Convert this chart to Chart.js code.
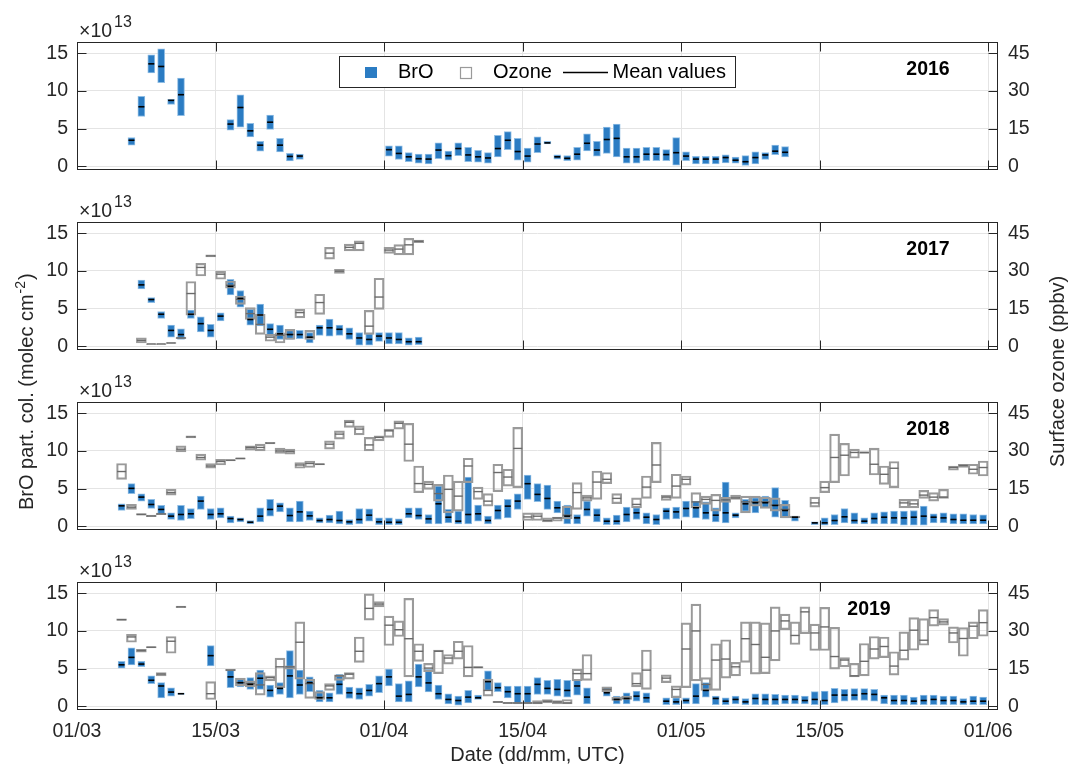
<!DOCTYPE html>
<html>
<head>
<meta charset="utf-8">
<title>BrO partial columns and surface ozone, spring 2016-2019</title>
<script src="https://cdn.jsdelivr.net/npm/chart.js@4.4.1/dist/chart.umd.min.js"></script>
<style>
  html, body { margin: 0; padding: 0; background: #ffffff; }
  #fig { position: relative; width: 1071px; height: 764px; overflow: hidden; }
  #fig canvas { position: absolute; left: 0; top: 0; }
</style>
</head>
<body>
<div id="fig">
  <canvas id="c2016" width="1071" height="764"></canvas>
  <canvas id="c2017" width="1071" height="764"></canvas>
  <canvas id="c2018" width="1071" height="764"></canvas>
  <canvas id="c2019" width="1071" height="764"></canvas>
</div>
<script>
// ---------------------------------------------------------------------------
// Tick labels and axis texts
// ---------------------------------------------------------------------------
const xTickLabels = ['01/03', '15/03', '01/04', '15/04', '01/05', '15/05', '01/06'];
const broTicks = [0, 5, 10, 15];        // x 10^13 molec cm-2
const ozoneTicks = [0, 15, 30, 45];     // ppbv
const xTitle = 'Date (dd/mm, UTC)';
const broTitle = 'BrO part. col. (molec cm';
const broTitleExp = '-2';
const ozoneTitle = 'Surface ozone (ppbv)';

// ---------------------------------------------------------------------------
// 2016 : daily BrO range (min / max) and mean, 10^13 molec cm-2
// ---------------------------------------------------------------------------
const dates2016 = ['06/03','07/03','08/03','09/03','10/03','11/03',
  '16/03','17/03','18/03','19/03','20/03','21/03','22/03','23/03',
  '01/04','02/04','03/04','04/04','05/04','06/04','07/04','08/04','09/04','10/04',
  '11/04','12/04','13/04','14/04','15/04','16/04','17/04','18/04','19/04','20/04',
  '21/04','22/04','23/04','24/04','25/04','26/04','27/04','28/04','29/04','30/04',
  '01/05','02/05','03/05','04/05','05/05','06/05','07/05','08/05','09/05','10/05','11/05'];
const broMax2016 = [3.8,9.3,14.8,15.6,8.9,11.7,
  6.2,9.5,5.7,3.3,6.8,3.7,1.7,1.6,
  2.7,2.7,1.8,1.6,1.6,3.1,2.0,3.1,2.5,2.1,
  1.8,4.1,4.6,3.7,2.4,3.9,3.3,1.5,1.4,2.5,
  4.3,3.3,5.2,5.6,2.4,2.4,2.5,2.5,2.2,3.8,
  1.9,1.3,1.3,1.3,1.5,1.2,1.4,1.9,1.8,2.8,2.6];
const broMin2016 = [2.8,6.6,12.4,11.1,8.2,6.7,
  4.8,5.2,3.9,2.0,4.9,1.9,0.7,0.9,
  1.35,0.9,0.6,0.4,0.3,1.0,0.8,1.4,0.6,0.55,
  0.4,1.25,2.2,0.8,0.55,1.8,2.95,0.95,0.75,0.8,
  2.05,1.35,1.7,1.25,0.4,0.4,0.75,0.75,0.75,0.15,
  0.75,0.3,0.3,0.3,0.45,0.4,0.1,0.3,0.9,1.55,1.25];
const broMean2016 = [3.45,7.9,13.6,13.25,8.75,9.5,
  5.6,7.8,4.7,2.8,5.85,2.8,1.3,1.35,
  2.2,1.7,1.25,1.0,0.95,2.15,1.4,2.35,1.5,1.25,
  1.1,2.35,3.45,1.95,1.35,2.95,3.1,1.25,1.05,1.6,
  3.05,2.15,3.55,3.7,1.25,1.25,1.6,1.6,1.55,1.8,
  1.35,0.95,0.95,0.95,1.15,0.8,0.6,1.15,1.5,2.0,1.85];

// ---------------------------------------------------------------------------
// 2017 : BrO (10^13 molec cm-2) and surface ozone (ppbv)
// ---------------------------------------------------------------------------
const dates2017 = ['07/03','08/03','09/03','10/03','11/03','12/03','13/03','14/03','15/03','16/03',
  '17/03','18/03','19/03','20/03','21/03','22/03','23/03','24/03','25/03','26/03',
  '27/03','28/03','29/03','30/03','31/03','01/04','02/04','03/04','04/04'];
const broMax2017 = [8.8,6.45,4.6,2.8,2.3,4.8,3.9,2.9,4.45,8.9,
  7.4,4.9,5.6,3.0,2.8,2.1,2.1,1.8,2.8,3.6,
  2.8,2.45,1.8,1.65,1.8,1.8,1.8,1.1,1.2];
const broMin2017 = [7.6,5.8,3.7,1.2,0.9,3.7,1.9,1.2,3.35,6.8,
  5.2,2.8,2.7,1.35,0.9,0.9,1.0,0.45,1.45,1.35,
  1.45,0.9,0.15,0.15,0.65,0.3,0.3,0.15,0.2];
const broMean2017 = [8.15,6.2,4.25,2.1,1.55,4.25,3.0,2.1,4.0,7.95,
  6.35,3.55,4.15,2.25,1.65,1.55,1.55,1.2,2.45,2.45,
  2.25,1.65,1.1,0.9,1.35,1.1,0.9,0.6,0.6];
const o3Max2017 = [3.3,1.0,1.0,1.5,3.6,25.8,33.0,36.4,29.8,26.0,
  20.0,15.4,12.7,4.7,5.3,6.7,14.7,6.3,20.7,39.4,
  30.6,40.7,42.0,14.3,27.1,39.4,40.5,43.0,42.3];
const o3Min2017 = [1.3,0.7,0.7,1.1,3.0,12.4,28.0,35.6,26.7,23.1,
  16.7,10.7,4.7,2.0,1.3,2.7,11.3,2.7,12.7,34.7,
  29.0,38.0,38.0,4.7,14.7,37.0,36.4,36.4,41.3];
const o3Mean2017 = [2.3,0.9,0.9,1.3,3.3,21.0,31.4,36.0,28.7,24.3,
  18.7,13.0,8.7,3.6,4.4,4.7,13.4,3.6,17.4,37.1,
  29.9,39.4,41.0,8.0,19.6,38.3,38.7,40.4,41.8];

// ---------------------------------------------------------------------------
// 2018
// ---------------------------------------------------------------------------
const dates2018 = ['05/03','06/03','07/03','08/03','09/03','10/03','11/03','12/03','13/03','14/03',
  '15/03','16/03','17/03','18/03','19/03','20/03','21/03','22/03','23/03','24/03',
  '25/03','26/03','27/03','28/03','29/03','30/03','31/03',
  '01/04','02/04','03/04','04/04','05/04','06/04','07/04','08/04','09/04','10/04',
  '11/04','12/04','13/04','14/04','15/04','16/04','17/04','18/04','19/04','20/04',
  '21/04','22/04','23/04','24/04','25/04','26/04','27/04','28/04','29/04','30/04',
  '01/05','02/05','03/05','04/05','05/05','06/05','07/05','08/05','09/05','10/05','11/05','12/05',
  '14/05','15/05','16/05','17/05','18/05','19/05','20/05','21/05','22/05','23/05',
  '24/05','25/05','26/05','27/05','28/05','29/05','30/05','31/05'];
const broMax2018 = [2.98,5.65,4.32,3.56,2.76,1.78,2.76,2.36,4.0,2.36,
  2.45,1.34,1.11,0.76,2.45,3.56,3.12,2.45,3.34,2.0,
  1.11,1.47,2.0,0.89,2.36,2.31,1.11,
  1.11,0.98,2.45,2.45,1.56,5.34,2.23,2.0,6.54,2.8,
  1.34,2.8,3.56,4.32,6.8,5.65,5.47,3.34,2.8,1.56,
  3.34,2.36,1.11,1.47,2.54,2.45,1.78,1.56,2.45,2.54,
  3.34,3.34,3.25,2.45,5.87,1.78,3.56,3.78,4.0,5.12,3.43,1.34,
  0.58,1.11,1.56,2.36,1.78,1.11,1.78,1.91,2.0,2.0,
  2.09,2.67,1.65,1.78,1.65,1.65,1.56,1.5];
const broMin2018 = [2.09,4.32,3.34,2.36,1.56,0.89,0.76,1.02,2.23,0.89,
  1.11,0.45,0.58,0.31,0.58,1.34,1.91,0.58,0.58,0.76,
  0.45,0.45,0.31,0.22,0.31,0.67,0.22,
  0.22,0.22,1.11,0.89,0.31,0.31,0.45,0.31,0.31,0.67,
  0.31,0.89,1.11,2.23,3.56,3.25,2.23,1.78,0.31,0.31,
  1.34,0.58,0.22,0.22,0.58,0.89,0.31,0.22,0.89,0.98,
  1.2,1.11,0.89,0.58,0.45,1.11,2.0,1.78,2.45,1.2,1.11,0.67,
  0.22,0.13,0.22,0.45,0.31,0.31,0.31,0.31,0.31,0.13,
  0.13,0.13,0.45,0.45,0.31,0.31,0.31,0.31];
const broMean2018 = [2.71,5.03,3.87,2.89,2.23,1.34,1.56,1.65,3.34,1.56,
  1.65,1.02,0.89,0.53,1.34,2.23,2.67,1.42,1.91,1.38,
  0.76,0.89,0.76,0.58,0.89,1.47,0.58,
  0.53,0.53,1.65,1.42,0.98,2.98,1.2,0.67,1.56,1.65,
  0.76,2.09,2.67,3.34,5.65,4.23,3.69,2.45,1.34,1.11,
  2.23,1.47,0.67,0.67,1.56,1.78,1.2,0.89,2.0,1.91,
  2.36,2.45,1.78,1.47,1.78,1.47,2.98,3.12,3.12,2.76,2.09,1.2,
  0.45,0.45,0.76,1.25,0.76,0.67,1.02,1.2,1.11,1.11,
  1.2,1.34,1.2,1.11,0.89,0.8,0.8,0.8];
const o3Max2018 = [25,8.7,5.0,4.4,5.2,14.7,32,36.0,28.7,25,
  26.7,26.6,27.3,32,32.7,33.4,31.1,30.7,25.4,26,
  25.0,34,38,42.3,40,35.4,36,
  38.7,42,41,24,18,16.7,20.4,18,27.1,15.6,
  13,24.7,22.7,39.4,5.3,5.3,3.3,3.6,8.0,17.4,
  12.4,22,21.4,13,null,11.3,20,33.4,12.4,20.7,
  20,13.4,12,12.7,11.5,12.4,12,12,11.6,11.3,8.7,4,
  11.6,18,36.7,33,30.7,29.6,31.1,24,25.8,10.7,
  10.7,14.3,13.4,14.7,24,24.7,24.7,26];
const o3Min2018 = [18.7,6.7,4.4,3.8,4.6,12.4,29.6,35.2,26.3,23.1,
  24.4,26.0,26.7,30.3,30,32.8,29,28.7,23.1,23.4,
  24.4,30.7,34.7,39.4,36.4,30,34,
  35.4,38.7,25.8,13.4,14.7,10,5.3,6,17.4,10.7,
  8,13.8,16,15.4,2.3,2.3,1.7,2.0,2.9,6.7,
  10,10.7,17,9,null,7.3,11.1,17.4,10.3,11.1,
  16.4,7.3,8.7,6,9.5,10.7,5.3,8,7.1,6,3.3,3.3,
  7.6,13.4,17.4,20,27.1,29,20.4,16.7,15.4,7.3,
  7.3,11.1,10,11.1,22.3,23.4,20.7,20];
const o3Mean2018 = [21.8,7.6,4.7,4.1,4.9,13.4,30.7,35.6,27.4,24,
  25.8,26.3,27,31.4,31.4,33.1,30,29.8,24.4,25,
  24.7,32.7,36.7,41.4,38.7,32.4,35.4,
  38,41,32.7,17,16.7,13,14.7,12,24,13.8,
  10,21.4,19.6,31,3.7,4.0,2.3,3.3,4.4,13.4,
  11.3,17.6,18.7,11.1,null,8.7,15.6,24.4,11.6,16,
  18.7,9.7,10.7,10.3,10.5,11.3,9.7,9.7,9.7,8.4,6.7,3.6,
  9.3,15.4,27.4,28.3,29.4,29.4,24.7,20.7,23.1,9.3,
  8.9,12.4,11.6,11.6,23.4,24.2,22.7,23.4];

// ---------------------------------------------------------------------------
// 2019
// ---------------------------------------------------------------------------
const dates2019 = ['05/03','06/03','07/03','08/03','09/03','10/03','11/03','14/03',
  '16/03','17/03','18/03','19/03','20/03','21/03','22/03','23/03','24/03','25/03',
  '26/03','27/03','28/03','29/03','30/03','31/03',
  '01/04','02/04','03/04','04/04','05/04','06/04','07/04','08/04','09/04','10/04',
  '11/04','12/04','13/04','14/04','15/04','16/04','17/04','18/04','19/04','20/04','21/04',
  '23/04','24/04','25/04','26/04','27/04','29/04','30/04',
  '01/05','02/05','03/05','04/05','05/05','06/05','07/05','08/05','09/05','10/05',
  '11/05','12/05','13/05','14/05','15/05','16/05','17/05','18/05','19/05','20/05',
  '21/05','22/05','23/05','24/05','25/05','26/05','27/05','28/05','29/05','30/05','31/05'];
const broMax2019 = [5.96,7.75,5.96,4.03,3.13,2.46,1.75,8.06,
  4.79,3.58,3.8,4.79,2.82,3.13,7.39,4.79,3.9,2.1,
  1.79,4.25,2.55,2.46,2.91,4.03,
  4.93,3.0,3.36,5.6,4.9,2.82,1.66,1.34,2.1,1.48,
  4.7,3.13,2.69,2.69,2.69,3.81,3.45,3.58,3.45,3.58,2.46,
  2.55,1.34,1.79,2.02,1.79,1.12,1.12,
  1.12,3.0,3.13,1.34,1.12,1.34,1.03,1.66,1.66,1.57,
  1.48,1.48,1.34,1.93,2.02,2.37,2.24,2.33,2.33,2.24,
  1.48,1.48,1.48,1.21,1.48,1.48,1.34,1.34,1.03,1.34,1.21];
const broMin2019 = [5.06,5.5,5.24,3.0,1.12,1.34,1.57,5.37,
  2.46,2.55,2.24,2.24,1.21,1.57,1.12,1.57,1.93,0.58,
  0.58,1.57,1.03,0.9,1.34,1.79,
  2.69,0.58,0.58,2.55,1.9,0.9,0.31,0.13,0.45,0.9,
  2.1,1.93,1.12,0.31,0.31,1.57,1.57,1.34,1.21,1.48,0.31,
  1.34,0.31,0.31,0.67,0.45,0.22,0.22,
  0.31,0.31,1.21,0.22,0.22,0.31,0.22,0.22,0.22,0.22,
  0.31,0.31,0.31,0.22,0.22,0.45,0.67,0.76,0.76,0.67,
  0.31,0.22,0.22,0.22,0.22,0.22,0.22,0.22,0.22,0.22,0.22];
const broMean2019 = [5.5,6.49,5.6,3.45,2.69,1.88,1.66,6.72,
  3.9,3.13,2.91,3.72,2.1,2.37,4.03,2.82,3.13,1.12,
  1.12,2.91,1.79,1.66,2.1,3.0,
  3.9,1.34,1.57,3.9,3.1,1.66,0.9,0.76,1.21,1.12,
  3.27,2.46,1.93,1.66,1.66,2.91,2.37,2.24,2.1,2.69,1.21,
  1.79,0.9,1.03,1.34,1.12,0.67,0.58,
  0.76,1.34,2.1,1.03,0.67,0.9,0.58,1.03,0.9,0.9,
  0.9,0.9,0.76,0.9,0.76,1.48,1.48,1.48,1.66,1.57,
  1.12,0.76,0.76,0.67,0.76,0.9,0.76,0.76,0.58,0.67,0.67];
const o3Max2019 = [34.8,28.6,22.7,23.8,13.4,27.8,39.9,9.8,
  14.7,11.2,10.1,13.4,12.1,19.2,16.1,33.6,10.8,5.8,
  9.0,12.5,13.4,27.6,44.8,41.7,
  35.9,34.0,43.0,24.9,17.1,22.4,20.6,25.9,24.2,15.8,
  10.8,2.0,1.6,1.6,1.6,2.3,2.7,2.3,2.7,14.8,20.6,
  7.7,3.6,4.0,13.4,22.4,12.5,8.1,
  33.2,40.7,11.4,24.9,26.5,17.5,33.6,33.6,33.2,39.6,
  36.7,33.6,39.6,32.7,39.4,31.4,19.4,17.1,25.0,27.8,
  27.6,21.7,29.6,35.3,34.9,38.5,34.9,31.6,31.3,33.6,38.5];
const o3Min2019 = [34.2,25.5,21.5,23.2,12.1,21.1,39.3,2.7,
  14.1,8.1,7.7,4.4,10.1,7.4,14.8,10.8,3.1,2.7,
  6.3,10.3,10.8,17.5,34.3,39.6,
  24.2,27.8,11.7,17.9,13.8,13.0,16.8,18.8,11.7,15.2,
  4.0,1.4,1.0,1.0,1.0,0.9,1.3,0.9,0.9,10.1,10.3,
  5.8,2.3,2.7,7.7,6.7,9.4,3.4,
  7.4,10.1,6.3,6.3,11.2,12.1,17.5,12.8,13.0,18.1,
  30.5,24.6,28.9,22.2,22.2,14.8,15.7,11.7,12.1,18.8,
  19.4,12.4,18.4,22.3,24.3,31.9,32.3,25.2,19.9,26.9,27.9];
const o3Mean2019 = [34.5,27.6,22.2,23.5,12.8,25.9,39.6,5.0,
  14.4,9.4,9.0,8.5,11.4,15.7,15.7,25.5,9.0,3.6,
  8.1,12.1,12.8,21.9,39.0,40.7,
  32.3,30.5,26.9,21.9,15.2,21.9,19.2,21.9,15.5,15.5,
  6.3,1.7,1.3,1.3,1.3,1.3,2.0,1.7,1.3,13.0,13.0,
  6.7,2.7,3.1,9.0,14.4,11.2,6.7,
  22.8,30.0,8.7,18.4,18.8,15.7,26.9,24.6,19.5,30.0,
  34.0,28.2,37.6,29.2,31.6,19.8,18.4,12.1,17.9,22.8,
  23.8,16.0,22.3,30.3,26.3,35.3,33.6,29.2,27.0,31.9,33.3];

// ---------------------------------------------------------------------------
// Helpers
// ---------------------------------------------------------------------------
// day offset of a 'dd/mm' date from 1 March (March 31 d, April 30 d, May 31 d)
const MONTH_OFFSET = {3: 0, 4: 31, 5: 61, 6: 92};
function dayOf(s) {
  const [d, m] = s.split('/').map(Number);
  return MONTH_OFFSET[m] + d - 1;
}
const xTickDays = xTickLabels.map(dayOf);

// daily values are plotted at mid-day
function rangePoints(dates, lo, hi) {
  const out = [];
  if (!lo) return out;
  dates.forEach((s, i) => {
    if (lo[i] != null && hi[i] != null) out.push({x: dayOf(s) + 0.5, y: [lo[i], hi[i]]});
  });
  return out;
}
function meanPoints(dates, mean) {
  const out = [];
  if (!mean) return out;
  dates.forEach((s, i) => {
    if (mean[i] != null) out.push({x: dayOf(s) + 0.5, y: mean[i]});
  });
  return out;
}

const FONT = '"Liberation Sans", Arial, Helvetica, sans-serif';
const INK = '#262626';
const GRID = '#e4e4e4';
const BRO_FILL = '#2b7cc3';
const BRO_EDGE = '#8fbde4';
const O3_EDGE = '#9a9a9a';
const O3_MEAN = '#6a6a6a';
const TICK_FONT = 19.5;
const LABEL_FONT = 20;

Chart.defaults.font.family = FONT;
Chart.defaults.color = INK;

// Box, inward tick marks, year tag, exponent, legend and shared axis titles
const panelDecor = {
  id: 'panelDecor',
  afterDatasetsDraw(chart, args, o) {
    const ctx = chart.ctx;
    const a = chart.chartArea;
    const sx = chart.scales.x, sy = chart.scales.y, sy1 = chart.scales.y1;
    const L = a.left + 0.5, R = a.right - 0.5, T = a.top + 0.5, B = a.bottom - 0.5;
    const TL = 9;
    ctx.save();
    ctx.strokeStyle = INK;
    ctx.lineWidth = 1;
    ctx.beginPath();
    broTicks.forEach(v => {
      const y = Math.round(sy.getPixelForValue(v)) + 0.5;
      ctx.moveTo(L, y); ctx.lineTo(L + TL, y);
    });
    ozoneTicks.forEach(v => {
      const y = Math.round(sy1.getPixelForValue(v)) + 0.5;
      ctx.moveTo(R, y); ctx.lineTo(R - TL, y);
    });
    xTickDays.forEach(v => {
      const x = Math.round(sx.getPixelForValue(v)) + 0.5;
      ctx.moveTo(x, B); ctx.lineTo(x, B - TL);
      ctx.moveTo(x, T); ctx.lineTo(x, T + TL);
    });
    ctx.stroke();
    ctx.strokeRect(L, T, R - L, B - T);

    // year tag
    ctx.fillStyle = '#000000';
    ctx.font = `bold ${TICK_FONT}px ${FONT}`;
    ctx.textAlign = 'center';
    ctx.textBaseline = 'middle';
    ctx.fillText(o.year, o.yearX, a.top + 28);

    // x 10^13 exponent of the BrO axis
    ctx.fillStyle = INK;
    ctx.textAlign = 'left';
    ctx.textBaseline = 'alphabetic';
    ctx.font = `${TICK_FONT}px ${FONT}`;
    const base = '\u00d710';
    ctx.fillText(base, 79, a.top - 5);
    const wb = ctx.measureText(base).width;
    ctx.font = `16px ${FONT}`;
    ctx.fillText('13', 79 + wb + 2, a.top - 15);

    if (o.legend) drawLegend(chart, ctx);
    if (o.titles) drawTitles(chart, ctx);
    ctx.restore();
  }
};

function drawLegend(chart, ctx) {
  const ds = chart.data.datasets;
  const broLabel = ds.find(d => d.key === 'bro').label;
  const o3Label = ds.find(d => d.key === 'o3').label;
  const meanLabel = ds.find(d => d.key === 'broMean').label;
  const cy = 72.5;
  ctx.fillStyle = '#ffffff';
  ctx.fillRect(339.5, 56.5, 396, 31);
  ctx.strokeStyle = INK;
  ctx.lineWidth = 1;
  ctx.strokeRect(339.5, 56.5, 396, 31);
  ctx.fillStyle = BRO_FILL;
  ctx.fillRect(365, 67, 12, 11);
  ctx.strokeStyle = O3_EDGE;
  ctx.lineWidth = 1.2;
  ctx.strokeRect(460.5, 67.5, 11, 11);
  ctx.strokeStyle = '#000000';
  ctx.lineWidth = 1.5;
  ctx.beginPath(); ctx.moveTo(563, cy); ctx.lineTo(608, cy); ctx.stroke();
  ctx.fillStyle = '#000000';
  ctx.font = `${LABEL_FONT}px ${FONT}`;
  ctx.textAlign = 'left';
  ctx.textBaseline = 'middle';
  ctx.fillText(broLabel, 398, cy);
  ctx.fillText(o3Label, 493, cy);
  ctx.fillText(meanLabel, 612.5, cy);
}

function drawTitles(chart, ctx) {
  const a = chart.chartArea;
  ctx.fillStyle = INK;
  ctx.font = `${LABEL_FONT}px ${FONT}`;
  ctx.textBaseline = 'alphabetic';
  ctx.textAlign = 'center';
  ctx.fillText(xTitle, (a.left + a.right) / 2, 761);
  ctx.textAlign = 'left';
  ctx.save();
  ctx.translate(33, 510);
  ctx.rotate(-Math.PI / 2);
  ctx.fillText(broTitle, 0, 0);
  const w = ctx.measureText(broTitle).width;
  ctx.font = `14px ${FONT}`;
  ctx.fillText(broTitleExp, w + 1, -8);
  const we = ctx.measureText(broTitleExp).width;
  ctx.font = `${LABEL_FONT}px ${FONT}`;
  ctx.fillText(')', w + we + 2, 0);
  ctx.restore();
  ctx.save();
  ctx.translate(1064, 467);
  ctx.rotate(-Math.PI / 2);
  ctx.fillText(ozoneTitle, 0, 0);
  ctx.restore();
}

// ---------------------------------------------------------------------------
// Panels
// ---------------------------------------------------------------------------
const panels = [
  {canvas: 'c2016', year: '2016', dates: dates2016,
   bro: [broMin2016, broMax2016, broMean2016], o3: [null, null, null]},
  {canvas: 'c2017', year: '2017', dates: dates2017,
   bro: [broMin2017, broMax2017, broMean2017], o3: [o3Min2017, o3Max2017, o3Mean2017]},
  {canvas: 'c2018', year: '2018', dates: dates2018,
   bro: [broMin2018, broMax2018, broMean2018], o3: [o3Min2018, o3Max2018, o3Mean2018]},
  {canvas: 'c2019', year: '2019', dates: dates2019,
   bro: [broMin2019, broMax2019, broMean2019], o3: [o3Min2019, o3Max2019, o3Mean2019]}
];

const PANEL_TOP = 42, PANEL_H = 128, PANEL_STEP = 180;
const PLOT_LEFT = 77, PLOT_RIGHT = 998;
const W = 1071, H = 764;
const Y_AXIS_W = 70, X_AXIS_H = 40;

panels.forEach((p, i) => {
  const top = PANEL_TOP + i * PANEL_STEP;
  const bottom = top + PANEL_H;
  const isLast = i === panels.length - 1;
  const xAxisH = isLast ? X_AXIS_H : 0;
  new Chart(document.getElementById(p.canvas), {
    type: 'bar',
    data: {
      datasets: [
        {key: 'broMean', type: 'line', label: 'Mean values', yAxisID: 'y', order: 0,
         data: meanPoints(p.dates, p.bro[2]), showLine: false,
         pointStyle: 'line', pointRadius: 3, pointHoverRadius: 3,
         pointBorderWidth: 1.6, pointBorderColor: '#000000', borderColor: '#000000'},
        {key: 'o3Mean', type: 'line', label: 'Ozone mean', yAxisID: 'y1', order: 1,
         data: meanPoints(p.dates, p.o3[2]), showLine: false,
         pointStyle: 'line', pointRadius: 4.5, pointHoverRadius: 4.5,
         pointBorderWidth: 1.4, pointBorderColor: O3_MEAN, borderColor: O3_MEAN},
        {key: 'o3', label: 'Ozone', yAxisID: 'y1', order: 2,
         data: rangePoints(p.dates, p.o3[0], p.o3[1]),
         backgroundColor: 'rgba(255,255,255,0)', borderColor: O3_EDGE, borderWidth: 1.5,
         borderSkipped: false, barThickness: 10, grouped: false},
        {key: 'bro', label: 'BrO', yAxisID: 'y', order: 3,
         data: rangePoints(p.dates, p.bro[0], p.bro[1]),
         backgroundColor: BRO_FILL, borderColor: BRO_EDGE, borderWidth: 1,
         borderSkipped: false, barThickness: 7, grouped: false}
      ]
    },
    options: {
      responsive: false,
      maintainAspectRatio: false,
      animation: false,
      events: [],
      devicePixelRatio: 1,
      layout: {padding: {left: PLOT_LEFT - Y_AXIS_W, right: W - PLOT_RIGHT - Y_AXIS_W,
                         top: top, bottom: H - bottom - xAxisH}},
      plugins: {
        legend: {display: false},
        tooltip: {enabled: false},
        panelDecor: {year: p.year, yearX: isLast ? 869 : 928, legend: i === 0, titles: isLast}
      },
      scales: {
        x: {
          type: 'linear', min: 0, max: 93, offset: false,
          afterBuildTicks: s => { s.ticks = xTickDays.map(v => ({value: v})); },
          afterFit: s => { s.height = xAxisH; },
          grid: {color: GRID, drawTicks: false, offset: false},
          border: {display: false},
          ticks: {display: isLast, autoSkip: false, maxRotation: 0, minRotation: 0, padding: 10,
                  color: INK, font: {size: TICK_FONT},
                  callback: v => xTickLabels[xTickDays.indexOf(v)]}
        },
        y: {
          position: 'left', min: -0.5, max: 16.5,
          afterBuildTicks: s => { s.ticks = broTicks.map(v => ({value: v})); },
          afterFit: s => { s.width = Y_AXIS_W; },
          grid: {color: GRID, drawTicks: false},
          border: {display: false},
          ticks: {padding: 9, color: INK, font: {size: TICK_FONT}}
        },
        y1: {
          position: 'right', min: -1.5, max: 49.5,
          afterBuildTicks: s => { s.ticks = ozoneTicks.map(v => ({value: v})); },
          afterFit: s => { s.width = Y_AXIS_W; },
          grid: {display: false, drawTicks: false},
          border: {display: false},
          ticks: {padding: 10, color: INK, font: {size: TICK_FONT}}
        }
      }
    },
    plugins: [panelDecor]
  });
});
</script>
</body>
</html>
